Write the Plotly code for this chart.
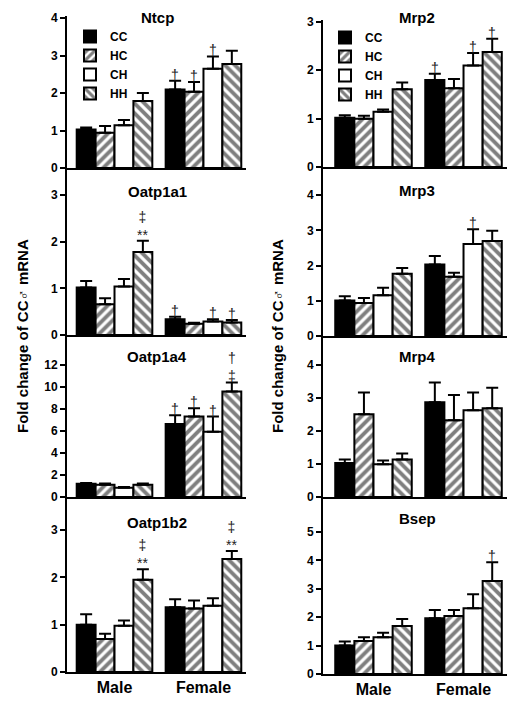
import plotly.graph_objects as go
from plotly.subplots import make_subplots

W, H = 508, 703

groups = ["Male", "Female"]
treatments = ["CC", "HC", "CH", "HH"]

# values: Male CC, HC, CH, HH, Female CC, HC, CH, HH
ntcp_mean = [1.03, 0.94, 1.14, 1.79, 2.10, 2.04, 2.65, 2.78]
ntcp_sem = [0.05, 0.18, 0.14, 0.21, 0.23, 0.26, 0.33, 0.35]
oatp1a1_mean = [1.02, 0.66, 1.04, 1.78, 0.34, 0.24, 0.29, 0.27]
oatp1a1_sem = [0.14, 0.13, 0.16, 0.24, 0.05, 0.02, 0.05, 0.05]
oatp1a4_mean = [1.20, 1.12, 0.85, 1.12, 6.63, 7.30, 5.93, 9.58]
oatp1a4_sem = [0.08, 0.10, 0.06, 0.10, 0.79, 0.76, 1.37, 0.82]
oatp1b2_mean = [1.00, 0.70, 0.98, 1.95, 1.37, 1.34, 1.40, 2.39]
oatp1b2_sem = [0.22, 0.11, 0.11, 0.22, 0.17, 0.17, 0.16, 0.17]
mrp2_mean = [1.02, 1.00, 1.14, 1.61, 1.80, 1.63, 2.10, 2.38]
mrp2_sem = [0.05, 0.06, 0.05, 0.14, 0.13, 0.19, 0.26, 0.27]
mrp3_mean = [1.01, 0.94, 1.16, 1.77, 2.03, 1.68, 2.61, 2.70]
mrp3_sem = [0.12, 0.14, 0.21, 0.16, 0.24, 0.12, 0.42, 0.29]
mrp4_mean = [1.03, 2.51, 0.99, 1.14, 2.87, 2.33, 2.63, 2.69]
mrp4_sem = [0.11, 0.66, 0.12, 0.18, 0.60, 0.76, 0.54, 0.62]
bsep_mean = [1.00, 1.16, 1.29, 1.69, 1.96, 2.04, 2.31, 3.27]
bsep_sem = [0.14, 0.13, 0.16, 0.25, 0.29, 0.21, 0.50, 0.66]

D = "\u2020"
DD = "\u2021"
ntcp_marks = ["", "", "", "", D, D, D, ""]
oatp1a1_marks = ["", "", "", DD + "<br>**", D, "", D, D]
oatp1a4_marks = ["", "", "", "", D, D, D, D + "<br>" + DD]
oatp1b2_marks = ["", "", "", DD + "<br>**", "", "", "", DD + "<br>**"]
mrp2_marks = ["", "", "", "", D, "", D, D]
mrp3_marks = ["", "", "", "", "", "", D, ""]
mrp4_marks = [""] * 8
bsep_marks = ["", "", "", "", "", "", "", D]

ntcp_ticks = [0, 1, 2, 3, 4]
oatp1a1_ticks = [0, 1, 2, 3]
oatp1a4_ticks = [0, 2, 4, 6, 8, 10, 12]
oatp1b2_ticks = [0, 1, 2, 3]
mrp2_ticks = [0, 1, 2, 3]
mrp3_ticks = [0, 1, 2, 3, 4]
mrp4_ticks = [0, 1, 2, 3, 4]
bsep_ticks = [0, 1, 2, 3, 4, 5]

panels = [
    # name, mean, sem, marks, ticks, ymax, row, col
    ("Ntcp", ntcp_mean, ntcp_sem, ntcp_marks, ntcp_ticks, 4.06, 1, 1),
    ("Mrp2", mrp2_mean, mrp2_sem, mrp2_marks, mrp2_ticks, 3.04, 1, 2),
    ("Oatp1a1", oatp1a1_mean, oatp1a1_sem, oatp1a1_marks, oatp1a1_ticks, 3.58, 2, 1),
    ("Mrp3", mrp3_mean, mrp3_sem, mrp3_marks, mrp3_ticks, 4.80, 2, 2),
    ("Oatp1a4", oatp1a4_mean, oatp1a4_sem, oatp1a4_marks, oatp1a4_ticks, 14.7, 3, 1),
    ("Mrp4", mrp4_mean, mrp4_sem, mrp4_marks, mrp4_ticks, 4.88, 3, 2),
    ("Oatp1b2", oatp1b2_mean, oatp1b2_sem, oatp1b2_marks, oatp1b2_ticks, 3.70, 4, 1),
    ("Bsep", bsep_mean, bsep_sem, bsep_marks, bsep_ticks, 6.23, 4, 2),
]

# pixel layout of the panels (top, bottom) per column and x extents
left_rows = [(16, 168), (168, 335), (335, 497), (497, 672)]
right_rows = [(20, 167), (167, 336), (336, 497), (497, 674)]
title_y = {1: [17, 191, 357, 522], 2: [18, 190, 357, 518]}
left_x = (67, 246)
right_x = (323, 507)
left_xrange = [-0.534, 1.478]
right_xrange = [-0.561, 1.483]
title_x = {1: 157, 2: 417}

FONT = "Arial, Liberation Sans, sans-serif"
BARGAP = 0.15

styles = {
    "CC": dict(color="black", pattern=dict(shape="")),
    "HC": dict(color="white", pattern=dict(shape="/", fgcolor="black", bgcolor="white", size=7, solidity=0.55)),
    "CH": dict(color="white", pattern=dict(shape="")),
    "HH": dict(color="white", pattern=dict(shape="\\", fgcolor="black", bgcolor="white", size=7, solidity=0.55)),
}

fig = make_subplots(rows=4, cols=2)
annotations = []

for name, mean, sem, marks, ticks, ymax, row, col in panels:
    for i, t in enumerate(treatments):
        yv = [mean[i], mean[4 + i]]
        ev = [sem[i], sem[4 + i]]
        show = (row == 1)
        st = styles[t]
        fig.add_trace(go.Bar(
            x=[0, 1], y=yv, name=f"<b>{t}</b>",
            marker=dict(color=st["color"], pattern=st["pattern"],
                        line=dict(color="black", width=2)),
            error_y=dict(type="data", array=ev, arrayminus=[0, 0], symmetric=False,
                         color="black", thickness=2, width=6),
            showlegend=show,
            legend="legend" if col == 1 else "legend2",
        ), row=row, col=col)
    idx = (row - 1) * 2 + col
    xa = "x" if idx == 1 else f"x{idx}"
    ya = "y" if idx == 1 else f"y{idx}"
    # significance marks
    w = (1 - BARGAP) / 4
    for g in range(2):
        for i in range(4):
            m = marks[g * 4 + i]
            if m:
                annotations.append(dict(
                    x=g + (i - 1.5) * w, y=mean[g * 4 + i] + sem[g * 4 + i],
                    xref=xa, yref=ya, text=m, showarrow=False,
                    yanchor="bottom", xanchor="center", yshift=-4,
                    font=dict(family=FONT, size=14, color="#222")))
    rows_px = left_rows if col == 1 else right_rows
    xpx = left_x if col == 1 else right_x
    top, bot = rows_px[row - 1]
    xr = left_xrange if col == 1 else right_xrange
    # title
    annotations.append(dict(
        x=title_x[col] / W, y=1 - title_y[col][row - 1] / H, xref="paper", yref="paper",
        text=f"<b>{name}</b>", showarrow=False, xanchor="center", yanchor="middle",
        font=dict(family=FONT, size=15, color="black")))
    fig.update_xaxes(
        domain=[xpx[0] / W, xpx[1] / W], range=xr, automargin=False,
        showline=True, linecolor="black", linewidth=2,
        ticks="", tickvals=[0, 1], ticktext=["<b>Male</b>", "<b>Female</b>"],
        showticklabels=(row == 4), showgrid=False, zeroline=False,
        tickfont=dict(family=FONT, size=16, color="black"),
        row=row, col=col)
    fig.update_yaxes(
        domain=[1 - bot / H, 1 - top / H], range=[0, ymax], automargin=False,
        showline=True, linecolor="black", linewidth=2,
        ticks="outside", ticklen=5, tickwidth=2, tickcolor="black",
        tickvals=ticks, ticktext=[f"<b>{v}</b>" for v in ticks],
        showgrid=False, zeroline=False,
        tickfont=dict(family=FONT, size=12, color="black"),
        row=row, col=col)

for xpix in (22, 277):
    annotations.append(dict(
        x=xpix / W, y=1 - 336 / H, xref="paper", yref="paper",
        text="<b>Fold change of CC\u2642 mRNA</b>", textangle=-90, showarrow=False,
        xanchor="center", yanchor="middle",
        font=dict(family=FONT, size=15, color="black")))

legend_style = dict(font=dict(family=FONT, size=12, color="black"),
                    bgcolor="rgba(0,0,0,0)", xanchor="left", yanchor="top",
                    tracegroupgap=0, itemwidth=30)

fig.update_layout(
    width=W, height=H,
    margin=dict(l=0, r=0, t=0, b=0, autoexpand=False),
    paper_bgcolor="white", plot_bgcolor="white",
    barmode="group", bargap=BARGAP, bargroupgap=0,
    annotations=annotations,
    legend=dict(x=70 / W, y=1 - 22 / H, **legend_style),
    legend2=dict(x=325 / W, y=1 - 23 / H, **legend_style),
)

fig.write_html(
    "out.html",
    config={"displayModeBar": False},
    post_script="document.body.style.margin='0';document.body.style.overflow='hidden';window.scrollTo(0,0);",
)
